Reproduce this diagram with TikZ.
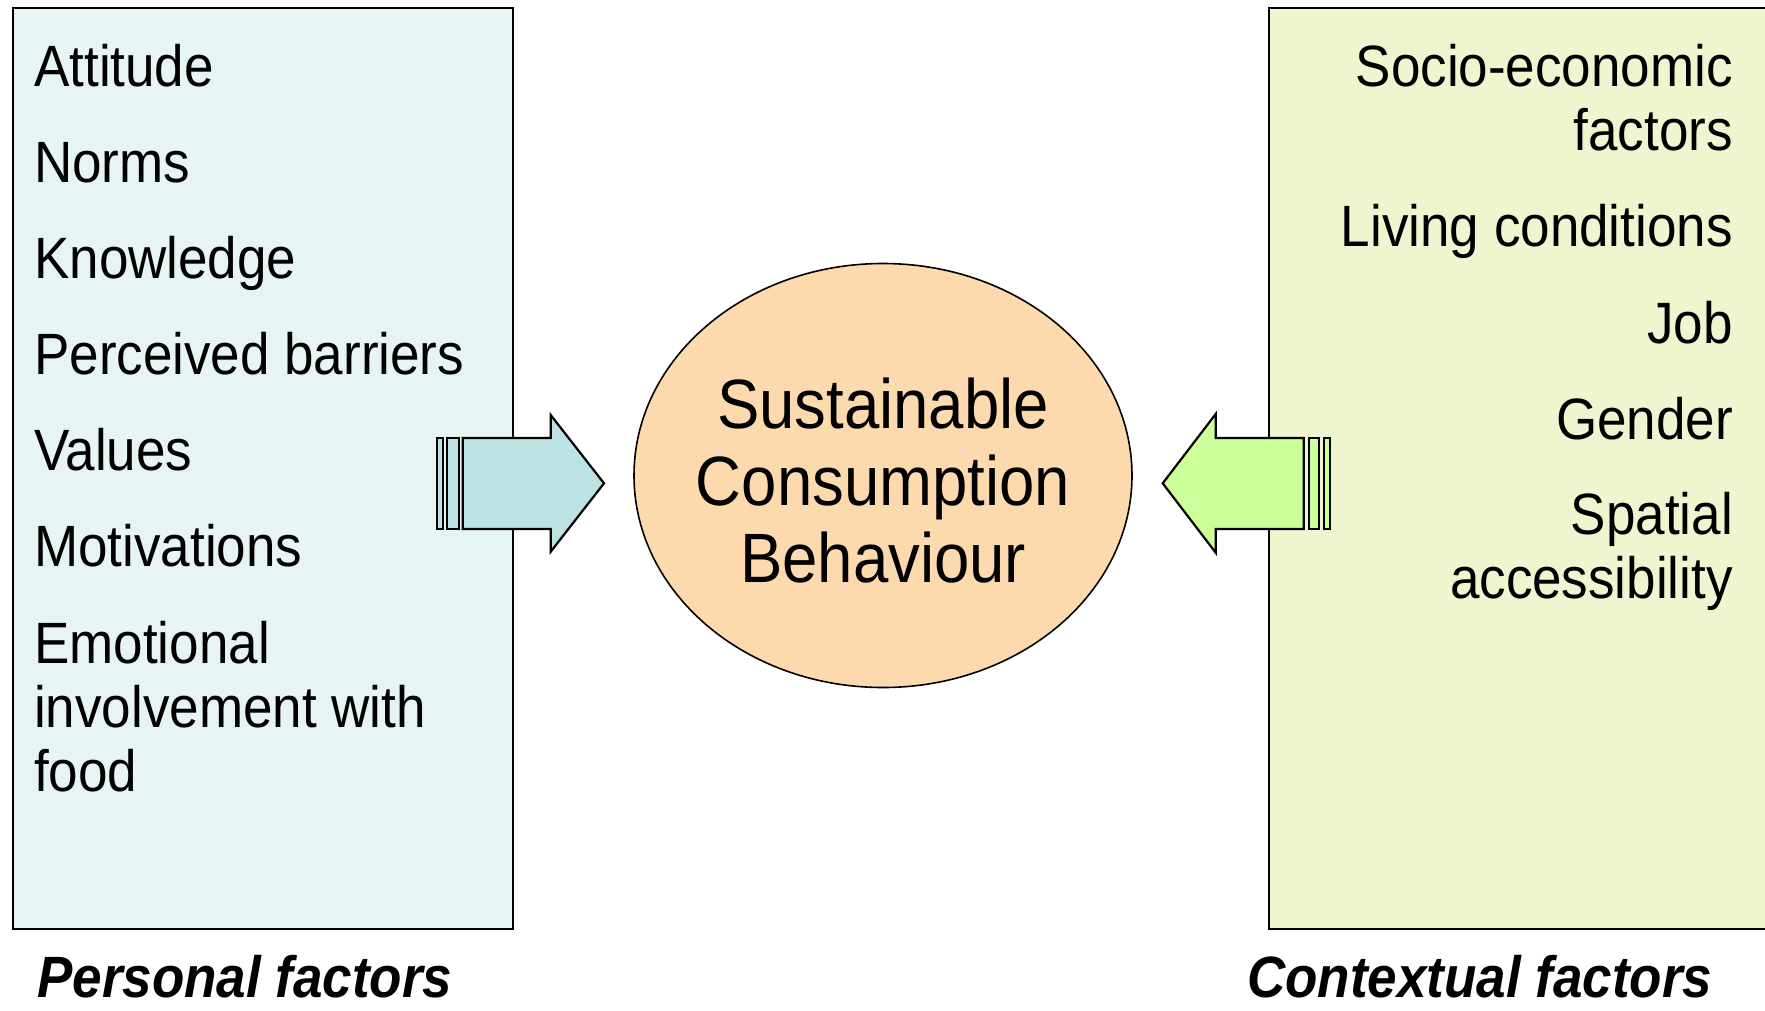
\documentclass[tikz,border=0pt]{standalone}
\usepackage{fontspec}
\setmainfont{Liberation Sans}
\usetikzlibrary{shapes.geometric}
\definecolor{lboxc}{HTML}{E6F4F4}
\definecolor{rboxc}{HTML}{EDF6CE}
\definecolor{ellc}{HTML}{FCDAAE}
\definecolor{larrc}{HTML}{BDE2E4}
\definecolor{rarrc}{HTML}{CCFF99}
\newcommand{\vst}[1]{\scalebox{1}[1.1]{#1}}
\begin{document}
\begin{tikzpicture}[x=1pt,y=-1pt,
  panel/.style={draw=black, line width=1.8pt},
  item/.style={inner sep=0pt, font=\fontsize{53}{64}\selectfont},
  litem/.style={item, anchor=base west},
  ritem/.style={item, anchor=base east},
  citem/.style={inner sep=0pt, anchor=base, font=\fontsize{63.5}{76}\selectfont},
  caption/.style={inner sep=0pt, text depth=0pt, anchor=base west, font=\fontsize{53}{64}\selectfont\bfseries\itshape},
  blockarrow/.style={draw=black, line width=2.2pt, line join=miter}]
\useasboundingbox (0,0) rectangle (1765,1010);
% panels
\path[panel, fill=lboxc] (13,8) rectangle (513,929);
\path[panel, fill=rboxc] (1269,8) rectangle (1790,929);
% ellipse
\node[draw=black, line width=1.6pt, fill=ellc, ellipse, minimum width=498pt, minimum height=424pt, inner sep=0pt] (scb) at (883,475.5) {};
% left items
\node[litem] (l1) at (34,86) {\vst{Attitude}};
\node[litem] (l2) at (34,182) {\vst{Norms}};
\node[litem] (l3) at (34,278) {\vst{Knowledge}};
\node[litem] (l4) at (34,374) {\vst{Perceived barriers}};
\node[litem] (l5) at (34,470) {\vst{Values}};
\node[litem] (l6) at (34,566) {\vst{Motivations}};
\node[litem] (l7) at (34,663) {\vst{Emotional}};
\node[litem] (l8) at (34,727) {\vst{involvement with}};
\node[litem] (l9) at (34,791) {\vst{food}};
% right items
\node[ritem] (r1) at (1733,86) {\vst{Socio-economic}};
\node[ritem] (r2) at (1733,150) {\vst{factors}};
\node[ritem] (r3) at (1733,246) {\vst{Living conditions}};
\node[ritem] (r4) at (1733,343) {\vst{Job}};
\node[ritem] (r5) at (1733,439) {\vst{Gender}};
\node[ritem] (r6) at (1733,534) {\vst{Spatial}};
\node[ritem] (r7) at (1733,598) {\vst{accessibility}};
% centre text
\node[citem] (c1) at (883,428) {\vst{Sustainable}};
\node[citem] (c2) at (883,505) {\vst{Consumption}};
\node[citem] (c3) at (883,582) {\vst{Behaviour}};
% left block arrow
\draw[blockarrow, fill=larrc] (462.7,438) -- (550.7,438) -- (550.7,415) -- (604,483.3) -- (550.7,551.7) -- (550.7,529) -- (462.7,529) -- cycle;
\draw[blockarrow, fill=larrc] (436.7,438) rectangle (442.7,529);
\draw[blockarrow, fill=larrc] (446.7,438) rectangle (458.7,529);
% right block arrow
\draw[blockarrow, fill=rarrc] (1303.7,438) -- (1215.7,438) -- (1215.7,414) -- (1162.7,483.3) -- (1215.7,552.7) -- (1215.7,529) -- (1303.7,529) -- cycle;
\draw[blockarrow, fill=rarrc] (1308.7,438) rectangle (1319.3,529);
\draw[blockarrow, fill=rarrc] (1324,438) rectangle (1330,529);
% captions
\node[caption] (pf) at (37,997) {\vst{Personal factors}};
\node[caption] (cf) at (1247,997) {\vst{Contextual factors}};
\end{tikzpicture}
\end{document}
